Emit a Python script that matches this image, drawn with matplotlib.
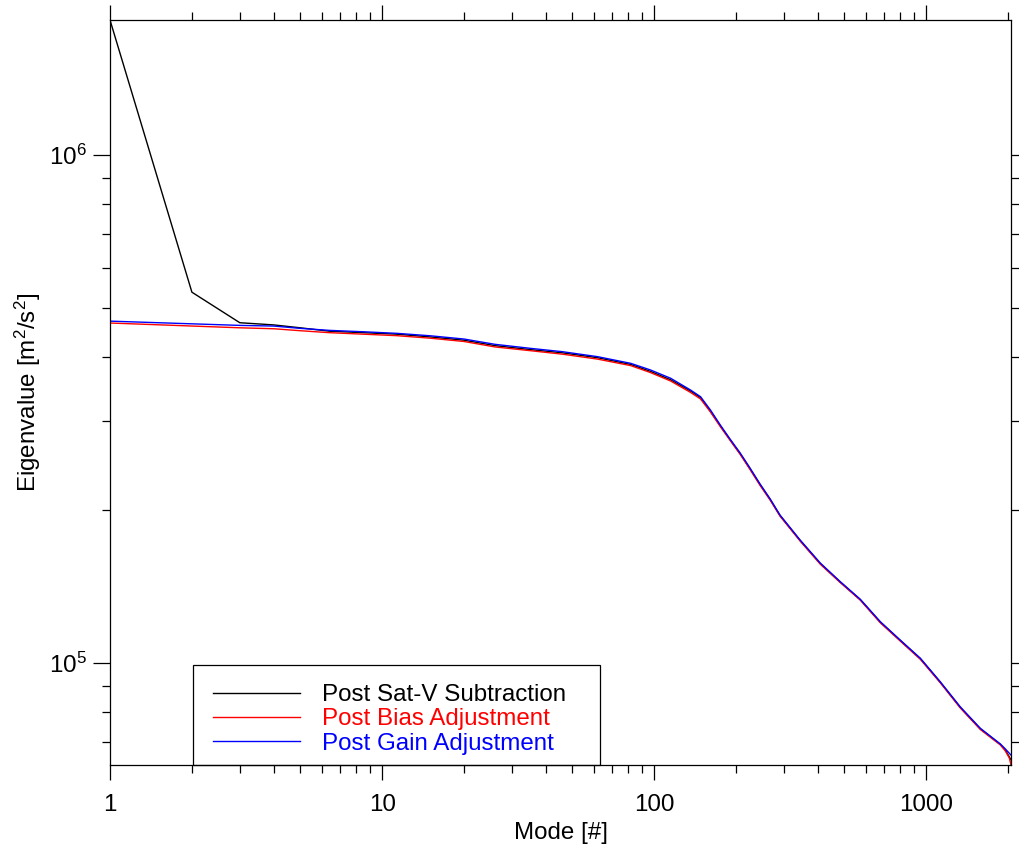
import numpy as np
import matplotlib
matplotlib.use("Agg")
import matplotlib.pyplot as plt
from matplotlib.ticker import LogLocator, NullFormatter
from matplotlib.patches import Rectangle

plt.rcParams['font.family'] = ['Liberation Sans', 'DejaVu Sans']
plt.rcParams['mathtext.fontset'] = 'custom'
plt.rcParams['mathtext.rm'] = 'Liberation Sans'
plt.rcParams['mathtext.default'] = 'regular'

# eigenvalue spectra
modes_sat = [1, 2, 3, 4, 5, 6.4, 8.5, 11.3, 15, 20, 26, 35, 46, 62, 82, 97, 115,
             136, 148, 161, 175, 190, 207, 225, 245, 267, 290, 344, 408, 483,
             572, 678, 802, 951, 1125, 1333, 1580, 1871, 1950, 2048]
eig_sat = [1.844e6, 5.37e5, 4.676e5, 4.63e5, 4.57e5, 4.50e5, 4.47e5, 4.44e5,
           4.385e5, 4.32e5, 4.215e5, 4.14e5, 4.08e5, 3.99e5, 3.87e5, 3.75e5,
           3.61e5, 3.43e5, 3.33e5, 3.13e5, 2.93e5, 2.752e5, 2.583e5, 2.412e5,
           2.244e5, 2.097e5, 1.95e5, 1.742e5, 1.569e5, 1.443e5, 1.333e5,
           1.203e5, 1.108e5, 1.02e5, 9.17e4, 8.18e4, 7.42e4, 6.92e4, 6.75e4,
           6.45e4]

modes_bias = [1, 3, 4, 5, 6.4, 8.5, 11.3, 15, 20, 26, 35, 46, 62, 82, 97, 115,
              136, 148, 161, 175, 190, 207, 225, 245, 267, 290, 344, 408, 483,
              572, 678, 802, 951, 1125, 1333, 1580, 1871, 1950, 2020, 2048]
eig_bias = [4.67e5, 4.57e5, 4.55e5, 4.51e5, 4.47e5, 4.44e5, 4.41e5, 4.36e5,
            4.295e5, 4.19e5, 4.12e5, 4.055e5, 3.965e5, 3.85e5, 3.73e5, 3.59e5,
            3.41e5, 3.31e5, 3.12e5, 2.92e5, 2.745e5, 2.575e5, 2.405e5, 2.237e5,
            2.092e5, 1.947e5, 1.738e5, 1.565e5, 1.44e5, 1.33e5, 1.20e5,
            1.105e5, 1.017e5, 9.15e4, 8.16e4, 7.40e4, 6.90e4, 6.72e4, 6.5e4,
            6.30e4]

modes_gain = [1, 3, 4, 5, 6.4, 8.5, 11.3, 15, 20, 26, 35, 46, 62, 82, 97, 115,
              136, 148, 161, 175, 190, 207, 225, 245, 267, 290, 344, 408, 483,
              572, 678, 802, 951, 1125, 1333, 1580, 1871, 1950, 2048]
eig_gain = [4.71e5, 4.62e5, 4.606e5, 4.558e5, 4.517e5, 4.489e5, 4.457e5,
            4.408e5, 4.343e5, 4.24e5, 4.164e5, 4.101e5, 4.009e5, 3.89e5,
            3.774e5, 3.635e5, 3.447e5, 3.344e5, 3.148e5, 2.941e5, 2.760e5,
            2.591e5, 2.420e5, 2.251e5, 2.103e5, 1.956e5, 1.746e5, 1.573e5,
            1.446e5, 1.335e5, 1.206e5, 1.110e5, 1.022e5, 9.19e4, 8.20e4,
            7.44e4, 6.93e4, 6.78e4, 6.59e4]

labels = ['Post Sat-V Subtraction', 'Post Bias Adjustment', 'Post Gain Adjustment']
colors = ['black', 'red', 'blue']
xtick_vals = [1, 10, 100, 1000]
xtick_text = ['1', '10', '100', '1000']

fs = 17.4
fig = plt.figure(figsize=(10.2, 8.48), dpi=100)
ax = fig.add_axes([110 / 1020, 1 - 765 / 848, 901 / 1020, 745 / 848])

ax.plot(modes_sat, eig_sat, color=colors[0], lw=1.0, label=labels[0])
ax.plot(modes_bias, eig_bias, color=colors[1], lw=1.0, label=labels[1])
ax.plot(modes_gain, eig_gain, color=colors[2], lw=1.0, label=labels[2])

ax.set_xscale('log')
ax.set_yscale('log')
ax.set_xlim(1, 2048)
ax.set_ylim(min(eig_bias), max(eig_sat))

ax.set_xticks(xtick_vals)
ax.set_xticklabels(xtick_text)
ax.xaxis.set_minor_locator(LogLocator(base=10, subs=np.arange(2, 10)))
ax.xaxis.set_minor_formatter(NullFormatter())
ax.yaxis.set_major_locator(LogLocator(base=10))
ax.yaxis.set_minor_locator(LogLocator(base=10, subs=np.arange(2, 10)))
ax.yaxis.set_minor_formatter(NullFormatter())

for s in ax.spines.values():
    s.set_linewidth(0.9)
ax.tick_params(which='both', direction='out', top=True, right=True,
               width=0.9, labelsize=fs)
ax.tick_params(axis='x', which='major', length=11, pad=10)
ax.tick_params(axis='y', which='major', length=12, pad=5)
ax.tick_params(which='minor', length=5.5)

ax.set_xlabel('Mode [#]', fontsize=fs, labelpad=4)
ax.set_ylabel('Eigenvalue [m$^2$/s$^2$]', fontsize=fs, labelpad=4)

# legend box sits on the bottom axis, entries drawn without their own frame
ax.add_patch(Rectangle((83 / 901, 0), 407 / 901, 100 / 745, transform=ax.transAxes,
                       fill=False, edgecolor='black', lw=0.9, clip_on=False, zorder=5))
leg = ax.legend(loc='upper left', bbox_to_anchor=(103 / 901, 81 / 745),
                fontsize=fs, frameon=False, borderaxespad=0, borderpad=0,
                handlelength=3.6, handletextpad=0.9, labelspacing=0.1)
for txt, c in zip(leg.get_texts(), colors):
    txt.set_color(c)

fig.savefig('out.png', dpi=100)
